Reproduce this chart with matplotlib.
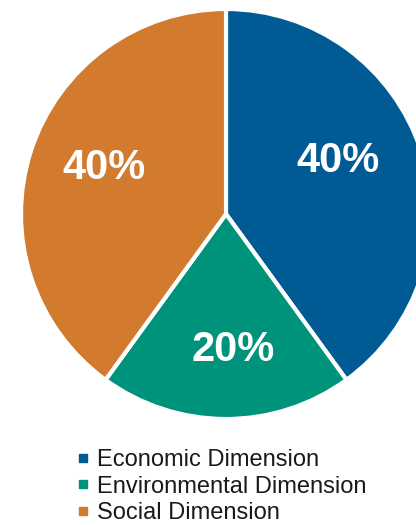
import matplotlib
matplotlib.use("Agg")
import matplotlib.pyplot as plt
from matplotlib.lines import Line2D

plt.rcParams['font.family'] = ['Liberation Sans', 'DejaVu Sans']

# data
labels = ['Economic Dimension', 'Environmental Dimension', 'Social Dimension']
shares = [40, 20, 40]
colors = ['#005b94', '#00937b', '#d27b2e']

W, H = 416, 525
cx, cy, r = 226, 214, 205  # pie centre/radius in pixels (from top-left)

fig = plt.figure(figsize=(W / 100, H / 100), dpi=100)
ax = fig.add_axes([0, 0, 1, 1])
ax.axis('off')

wedges, texts = ax.pie(shares, colors=colors, startangle=90, counterclock=False,
                       radius=1, center=(0, 0),
                       wedgeprops=dict(edgecolor='white', linewidth=3))

# percent labels
label_pos = [(338, 161), (233, 350), (104, 168)]
for s, (px, py) in zip(shares, label_pos):
    ax.text((px - cx) / r, (cy - py) / r, f'{s}%', color='white',
            fontsize=30, fontweight='bold', ha='center', va='center')

ax.set_xlim(-cx / r, (W - cx) / r)
ax.set_ylim(-(H - cy) / r, cy / r)
ax.set_aspect('auto')

handles = [Line2D([], [], marker='s', linestyle='none', markersize=5.5,
                  markerfacecolor=c, markeredgecolor=c) for c in colors]
fig.legend(handles, labels, loc='upper left', bbox_to_anchor=(78 / W, 1 - 449 / H),
           frameon=False, fontsize=17, handlelength=0.45, handletextpad=0.35,
           labelspacing=0.2, borderpad=0, borderaxespad=0, labelcolor='#1a1a1a')

fig.savefig('out.png', dpi=100)
